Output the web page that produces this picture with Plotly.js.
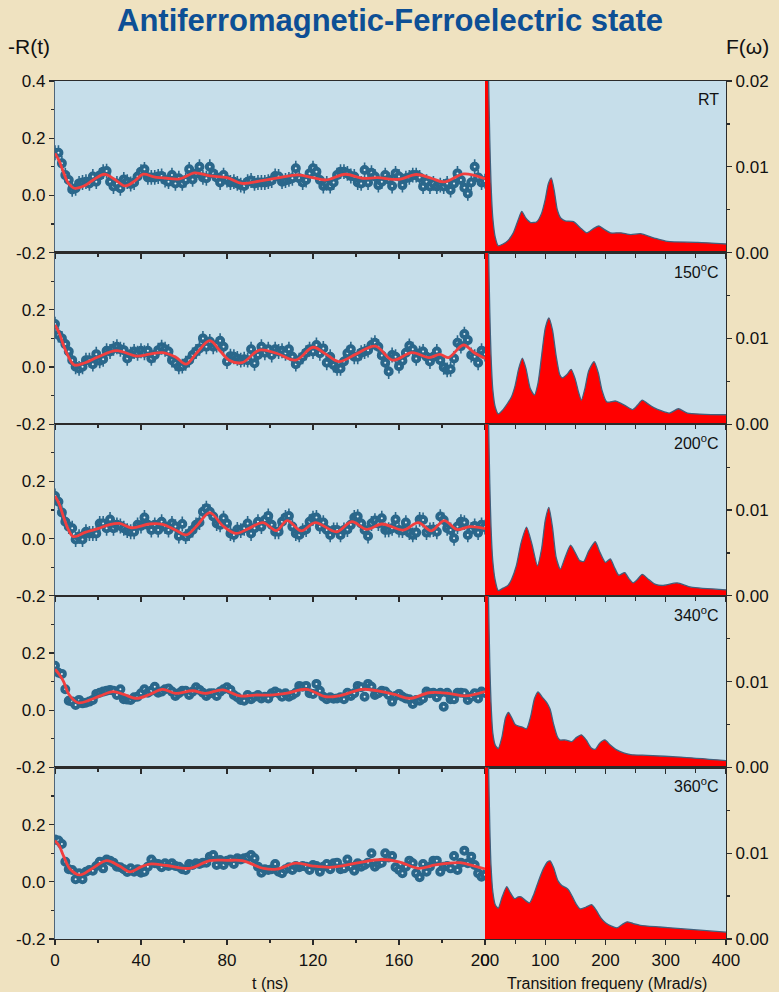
<!DOCTYPE html>
<html>
<head>
<meta charset="utf-8">
<script src="https://cdn.plot.ly/plotly-3.0.1.min.js"></script>
<style>
  html, body { margin: 0; padding: 0; background: #efe2c0; }
  #chart { width: 779px; height: 992px; }
</style>
</head>
<body>
<div id="chart"></div>
<script>
// Sampling step of the time channels (ns)
const T_STEP = 1.6;

// Panel labels (temperature)
const panelLabels = ['RT', '150<sup>o</sup>C', '200<sup>o</sup>C', '340<sup>o</sup>C', '360<sup>o</sup>C'];

// Error bar half-height on -R(t) per panel
const errR = [0.026, 0.026, 0.026, 0, 0];

// -R(t) measured points
const R_RT = [0.149,0.149,0.112,0.071,0.054,0.021,0.025,0.042,0.045,0.048,
  0.042,0.066,0.048,0.070,0.083,0.085,0.048,0.031,0.042,0.025,
  0.056,0.048,0.040,0.045,0.066,0.083,0.091,0.063,0.063,0.063,
  0.066,0.068,0.054,0.048,0.071,0.042,0.060,0.042,0.054,0.091,
  0.056,0.077,0.100,0.063,0.060,0.100,0.077,0.063,0.045,0.071,
  0.054,0.045,0.048,0.042,0.036,0.033,0.048,0.052,0.042,0.045,
  0.045,0.045,0.048,0.052,0.068,0.066,0.048,0.052,0.056,0.060,
  0.095,0.060,0.045,0.054,0.077,0.095,0.083,0.054,0.033,0.042,
  0.033,0.045,0.071,0.083,0.083,0.077,0.068,0.066,0.045,0.042,
  0.089,0.045,0.079,0.066,0.036,0.048,0.071,0.056,0.033,0.077,
  0.066,0.036,0.060,0.063,0.071,0.071,0.063,0.031,0.048,0.031,
  0.042,0.031,0.036,0.031,0.042,0.019,0.042,0.077,0.054,0.027,
  0.007,0.045,0.100,0.063,0.045,0.050];

const R_150 = [0.150,0.112,0.100,0.080,0.054,0.024,0.001,-0.005,0.001,0.024,
  0.024,0.010,0.045,0.022,0.027,0.057,0.054,0.065,0.071,0.062,
  0.059,0.030,0.045,0.054,0.048,0.057,0.050,0.057,0.030,0.042,
  0.059,0.069,0.062,0.054,0.024,0.013,0.001,0.003,0.013,0.024,
  0.042,0.054,0.065,0.100,0.071,0.089,0.071,0.077,0.092,0.071,
  0.019,0.038,0.036,0.030,0.024,0.027,0.024,0.062,0.013,0.042,
  0.071,0.050,0.062,0.042,0.062,0.054,0.057,0.048,0.062,0.036,
  0.010,0.024,0.036,0.050,0.062,0.054,0.077,0.048,0.065,0.015,
  0.036,0.007,-0.005,-0.005,0.019,0.048,0.062,0.036,0.036,0.050,
  0.054,0.059,0.077,0.085,0.071,0.040,0.015,-0.016,0.042,0.036,
  0.003,0.022,0.050,0.074,0.062,0.030,0.048,0.054,0.036,0.019,
  0.036,0.054,0.024,-0.001,-0.010,-0.008,0.030,0.085,0.073,0.115,
  0.094,0.042,0.036,0.015,0.057,0.045];

const R_200 = [0.149,0.129,0.091,0.059,0.042,0.036,-0.003,0.007,-0.003,0.024,
  0.018,0.018,0.018,0.053,0.053,0.036,0.067,0.036,0.048,0.044,
  0.036,0.028,0.024,0.024,0.048,0.044,0.074,0.048,0.030,0.048,
  0.030,0.059,0.042,0.030,0.053,0.042,0.009,0.051,0.007,0.018,
  0.030,0.048,0.056,0.094,0.106,0.094,0.077,0.053,0.048,0.071,
  0.053,0.018,0.013,0.032,0.028,0.036,0.053,0.018,0.036,0.059,
  0.042,0.065,0.079,0.048,0.024,0.024,0.059,0.074,0.079,0.042,
  0.018,0.013,0.028,0.032,0.059,0.071,0.074,0.042,0.056,0.030,
  0.013,0.030,0.030,0.013,0.030,0.032,0.048,0.074,0.077,0.053,
  0.030,0.009,0.053,0.063,0.053,0.071,0.030,0.031,0.036,0.067,
  0.030,0.028,0.056,0.021,0.013,0.021,0.067,0.065,0.021,0.030,
  0.032,0.024,0.077,0.065,0.036,0.030,0.001,0.042,0.059,0.056,
  0.013,0.032,0.044,0.021,0.048,0.040];

const R_340 = [0.155,0.131,0.127,0.073,0.033,0.030,0.018,0.036,0.024,0.026,
  0.030,0.036,0.057,0.061,0.065,0.068,0.071,0.068,0.053,0.073,
  0.038,0.037,0.036,0.045,0.047,0.059,0.073,0.061,0.068,0.082,
  0.061,0.065,0.073,0.076,0.065,0.050,0.059,0.068,0.068,0.053,
  0.065,0.080,0.071,0.061,0.050,0.059,0.059,0.050,0.065,0.073,
  0.080,0.071,0.053,0.045,0.036,0.033,0.053,0.038,0.047,0.053,
  0.041,0.047,0.041,0.059,0.065,0.059,0.047,0.059,0.047,0.053,
  0.061,0.085,0.082,0.085,0.059,0.057,0.092,0.068,0.047,0.038,
  0.045,0.040,0.041,0.045,0.038,0.061,0.050,0.059,0.085,0.080,
  0.047,0.092,0.082,0.053,0.059,0.068,0.065,0.053,0.030,0.050,
  0.057,0.047,0.041,0.038,0.022,0.036,0.033,0.041,0.065,0.059,
  0.061,0.045,0.061,0.012,0.061,0.038,0.038,0.061,0.061,0.059,
  0.036,0.047,0.059,0.041,0.065,0.060];

const R_360 = [0.148,0.144,0.132,0.070,0.044,0.041,0.009,0.030,0.009,0.035,
  0.041,0.039,0.055,0.070,0.047,0.078,0.074,0.067,0.053,0.051,
  0.044,0.034,0.047,0.035,0.044,0.032,0.035,0.053,0.078,0.065,
  0.062,0.051,0.065,0.055,0.065,0.055,0.053,0.044,0.041,0.062,
  0.059,0.065,0.062,0.067,0.067,0.088,0.094,0.059,0.076,0.059,
  0.074,0.078,0.062,0.082,0.078,0.082,0.085,0.094,0.082,0.053,
  0.032,0.044,0.041,0.044,0.062,0.035,0.030,0.044,0.051,0.041,
  0.055,0.051,0.055,0.053,0.041,0.059,0.055,0.035,0.053,0.062,
  0.044,0.065,0.067,0.044,0.047,0.078,0.053,0.039,0.065,0.053,
  0.059,0.067,0.100,0.053,0.062,0.067,0.100,0.085,0.090,0.051,
  0.041,0.030,0.053,0.074,0.065,0.030,0.016,0.062,0.035,0.053,
  0.074,0.074,0.035,0.053,0.055,0.047,0.090,0.041,0.067,0.109,
  0.065,0.088,0.059,0.030,0.018,0.025];

// Fitted -R(t) curves
const fitT_RT = [0,2,4,6,9,14,18,23,28,32.5,37,41,46,52,58,65,72,80,87,95,103,113,120,126,135,143,150,160,168,175,181,190,195,200];
const fitR_RT = [0.147,0.12,0.08,0.045,0.025,0.035,0.055,0.074,0.055,0.033,0.05,0.074,0.065,0.06,0.058,0.079,0.068,0.062,0.042,0.05,0.06,0.072,0.062,0.054,0.074,0.06,0.062,0.056,0.073,0.06,0.047,0.075,0.07,0.058];

const fitT_150 = [0,2,4,6,9,14,20,28.6,38,44,50,56,61,66,72,77,81,87,95,103,112,120,126,132,140,149,157,166,174,179,183,190,195,200];
const fitR_150 = [0.147,0.118,0.075,0.04,0.007,0.015,0.035,0.057,0.038,0.045,0.05,0.035,0.010,0.05,0.092,0.054,0.024,0.015,0.059,0.048,0.024,0.069,0.045,0.019,0.045,0.073,0.024,0.05,0.033,0.044,0.033,0.077,0.05,0.030];

const fitT_200 = [0,2,4,6,8.5,14,20,25,30,35.6,44,50,56,61,66,72,78,84,90,96.7,103,108,114.5,121,131,138,145,152,162,169,175,181,187,193,200];
const fitR_200 = [0.149,0.12,0.075,0.035,0.007,0.022,0.035,0.048,0.053,0.038,0.051,0.05,0.03,0.013,0.045,0.091,0.045,0.018,0.035,0.056,0.028,0.063,0.027,0.056,0.024,0.059,0.032,0.051,0.030,0.056,0.027,0.063,0.032,0.042,0.035];

const fitT_340 = [0,2,4,6.5,10.8,16,21,27,32,38,44,50,56,64,70,78,86,93,100,108,117,126,133,143,152,158,165,174,183,191,200];
const fitR_340 = [0.143,0.125,0.10,0.055,0.026,0.035,0.05,0.065,0.055,0.041,0.055,0.073,0.059,0.068,0.059,0.071,0.050,0.053,0.053,0.06,0.073,0.047,0.052,0.073,0.065,0.055,0.041,0.061,0.059,0.050,0.065];

const fitT_360 = [0,2,4,7,11.6,17,24,30,34.8,40,44,52,62.6,72,80,87,97,103,112,120,129,140,152,160,169,177,188,196,200];
const fitR_360 = [0.144,0.125,0.09,0.045,0.024,0.045,0.074,0.055,0.035,0.052,0.062,0.057,0.047,0.074,0.075,0.074,0.047,0.044,0.065,0.055,0.051,0.065,0.078,0.070,0.047,0.059,0.067,0.053,0.045];

// Frequency distributions F(omega)
const w_RT = [0,2,4,6,8,10,13,17,22,30,38,47,55,61,68,76,86,94,100,105,110,115,120,126,133,147,158,169,180,189,198,208,225,242,258,281,303,353,400];
const F_RT = [0.04,0.035,0.028,0.02,0.013,0.008,0.004,0.0018,0.0008,0.0010,
  0.0014,0.0023,0.0038,0.0048,0.0040,0.0035,0.0036,0.0046,0.0062,0.0080,
  0.0087,0.0072,0.0050,0.0040,0.0037,0.0036,0.0029,0.0023,0.0028,0.0031,
  0.0027,0.0023,0.0023,0.0021,0.0022,0.0017,0.0013,0.0012,0.0010];

const w_150 = [0,2,4,6,8,10,13,17,22,30,38,44,50,56,62,68,75,82,88,94,100,106,112,118,124,128,136,143,150,155,160,166,172,181,188,194,202,217,232,245,253,261,270,281,306,321,336,400];
const F_150 = [0.04,0.035,0.028,0.02,0.013,0.008,0.004,0.002,0.0012,0.0017,
  0.0025,0.0032,0.0045,0.0065,0.0077,0.0065,0.0042,0.0034,0.0048,0.0080,
  0.0112,0.0124,0.0110,0.0080,0.0058,0.0054,0.0058,0.0064,0.0052,0.0038,
  0.0028,0.0042,0.0062,0.0073,0.0060,0.0040,0.0026,0.0027,0.0022,0.0017,
  0.0022,0.0028,0.0024,0.0019,0.0013,0.0018,0.0013,0.0011];

const w_200 = [0,2,4,6,8,10,13,17,22,30,38,44,52,60,69,78,87,94,100,106,112,118,125,133,142,150,157,164,172,183,190,200,208,215,222,232,239,246,253,261,270,281,294,319,342,400];
const F_200 = [0.04,0.035,0.028,0.02,0.013,0.008,0.004,0.0018,0.0006,0.0009,
  0.0012,0.0019,0.0035,0.0062,0.0080,0.0060,0.0035,0.0055,0.0088,0.0103,
  0.0080,0.0045,0.0031,0.0045,0.0059,0.0050,0.0041,0.0040,0.0052,0.0063,
  0.0052,0.0039,0.0043,0.0033,0.0024,0.0027,0.0020,0.0015,0.0019,0.0025,
  0.0020,0.0014,0.0012,0.0015,0.0010,0.0007];

const w_340 = [0,2,4,6,8,10,13,17,22,28,34,39,45,50,56,62,69,76,82,88,95,102,108,114,120,124,132,139,144,152,160,168,176,183,190,199,208,217,230,242,269,325,400];
const F_340 = [0.04,0.035,0.027,0.019,0.012,0.0075,0.004,0.0026,0.0022,0.0035,
  0.0058,0.0064,0.0057,0.0050,0.0048,0.0047,0.0045,0.0060,0.0080,0.0088,
  0.0082,0.0076,0.0068,0.0050,0.0036,0.0032,0.0032,0.0031,0.0030,0.0035,
  0.0038,0.0032,0.0023,0.0021,0.0028,0.0032,0.0026,0.0021,0.0017,0.0015,
  0.0014,0.0012,0.0008];

const w_360 = [0,2,4,6,8,10,13,17,22,28,36,42,49,55,60,67,74,81,89,97,104,108,114,121,128,134,139,146,152,158,167,177,185,192,200,210,219,228,236,246,258,290,325,400];
const F_360 = [0.04,0.035,0.028,0.02,0.013,0.0085,0.0055,0.0040,0.0036,0.0048,
  0.0061,0.0054,0.0047,0.0049,0.0049,0.0045,0.0042,0.0052,0.0068,0.0082,
  0.0090,0.0091,0.0083,0.0068,0.0062,0.0060,0.0057,0.0048,0.0040,0.0035,
  0.0037,0.0040,0.0033,0.0025,0.0019,0.0015,0.0013,0.0017,0.0020,0.0018,
  0.0016,0.0014,0.0012,0.0008];

// Tick labels
const tickT = [0, 40, 80, 120, 160, 200];
const tickW = [0, 100, 200, 300, 400];
const tickRvals = [-0.2, 0, 0.2, 0.4];
const tickRtext = ['-0.2', '0.0', '0.2', '0.4'];
const tickFvals = [0, 0.01, 0.02];
const tickFtext = ['0.00', '0.01', '0.02'];

const panels = [
  { label: panelLabels[0], R: R_RT,  fT: fitT_RT,  fR: fitR_RT,  w: w_RT,  F: F_RT,  err: errR[0] },
  { label: panelLabels[1], R: R_150, fT: fitT_150, fR: fitR_150, w: w_150, F: F_150, err: errR[1] },
  { label: panelLabels[2], R: R_200, fT: fitT_200, fR: fitR_200, w: w_200, F: F_200, err: errR[2] },
  { label: panelLabels[3], R: R_340, fT: fitT_340, fR: fitR_340, w: w_340, F: F_340, err: errR[3] },
  { label: panelLabels[4], R: R_360, fT: fitT_360, fR: fitR_360, w: w_360, F: F_360, err: errR[4] }
];

// Page geometry (pixels)
const W = 779, H = 992;
const plotTop = 81, plotBottom = 939;
const rowH = (plotBottom - plotTop) / panels.length;
const xLeft0 = 55, xSplit = 485, xRight1 = 726;

const FONT = 'Liberation Sans, Arial, Helvetica, sans-serif';
const axisColor = '#2b2b2b';
const dotColor = '#2a678b';

const data = [];
const layout = {
  width: W, height: H,
  margin: { l: 0, r: 0, t: 0, b: 0 },
  paper_bgcolor: '#efe2c0',
  plot_bgcolor: '#c6deea',
  showlegend: false,
  font: { family: FONT, size: 17, color: '#111' },
  annotations: []
};

panels.forEach((p, r) => {
  const nL = 2 * r + 1, nR = 2 * r + 2;
  const top = plotTop + r * rowH, bot = top + rowH;
  const yDom = [1 - bot / H, 1 - top / H];
  const last = r === panels.length - 1;
  const tVals = p.R.map((_, i) => i * T_STEP);

  // measured points: dark spheres with a small light centre, vertical error bars
  data.push({
    x: tVals, y: p.R, type: 'scatter', mode: 'markers',
    xaxis: 'x' + nL, yaxis: 'y' + nL,
    marker: { size: 6, color: '#e6f1f7', line: { color: dotColor, width: 4 } },
    error_y: { type: 'constant', value: p.err, visible: p.err > 0, color: dotColor, thickness: 1.6, width: 0 }
  });
  // fitted curve
  data.push({
    x: p.fT, y: p.fR, type: 'scatter', mode: 'lines',
    xaxis: 'x' + nL, yaxis: 'y' + nL,
    line: { color: '#f23f3f', width: 2.8, shape: 'spline', smoothing: 1 }
  });
  // frequency distribution
  data.push({
    x: p.w, y: p.F, type: 'scatter', mode: 'lines', fill: 'tozeroy',
    xaxis: 'x' + nR, yaxis: 'y' + nR,
    fillcolor: '#ff0000',
    line: { color: '#41607c', width: 1.3, shape: 'spline', smoothing: 0.6 }
  });

  const common = {
    showgrid: false, zeroline: false, showline: true, linecolor: axisColor, linewidth: 1.2,
    ticks: 'outside', ticklen: 5, tickwidth: 1.2, tickcolor: axisColor,
    tickfont: { family: FONT, size: 17, color: '#111' }
  };

  layout['xaxis' + (nL === 1 ? '' : nL)] = Object.assign({}, common, {
    domain: [xLeft0 / W, xSplit / W], anchor: 'y' + nL, range: [0, 200], mirror: true,
    tickmode: 'array', tickvals: tickT, ticktext: tickT.map(String),
    showticklabels: last,
    minor: { dtick: 20, ticklen: 3, ticks: 'outside', tickcolor: axisColor }
  });
  layout['yaxis' + (nL === 1 ? '' : nL)] = Object.assign({}, common, {
    domain: yDom, anchor: 'x' + nL, range: [-0.2, 0.4], mirror: true, linecolor: '#4f6578',
    tickmode: 'array',
    tickvals: r === 0 ? tickRvals : tickRvals.slice(0, 3),
    ticktext: r === 0 ? tickRtext : tickRtext.slice(0, 3),
    minor: { dtick: 0.1, tick0: 0, ticklen: 3, ticks: 'outside', tickcolor: axisColor }
  });
  layout['xaxis' + nR] = Object.assign({}, common, {
    domain: [xSplit / W, xRight1 / W], anchor: 'y' + nR, range: [0, 400], mirror: true,
    tickmode: 'array', tickvals: tickW, ticktext: tickW.map(String),
    showticklabels: last,
    minor: { dtick: 50, ticklen: 4, ticks: 'outside', tickcolor: axisColor }
  });
  layout['yaxis' + nR] = Object.assign({}, common, {
    domain: yDom, anchor: 'x' + nR, side: 'right', range: [0, 0.02], mirror: false,
    tickmode: 'array',
    tickvals: r === 0 ? tickFvals : tickFvals.slice(0, 2),
    ticktext: r === 0 ? tickFtext : tickFtext.slice(0, 2),
    minor: { dtick: 0.005, ticklen: 3, ticks: 'outside', tickcolor: axisColor }
  });

  layout.annotations.push({
    xref: 'paper', yref: 'paper', x: 721 / W, y: 1 - (top + 18) / H,
    xanchor: 'right', yanchor: 'middle', showarrow: false,
    text: p.label, font: { family: FONT, size: 16, color: '#111' }
  });
});

// Headings and axis names
layout.annotations.push(
  { xref: 'paper', yref: 'paper', x: 390 / W, y: 1 - 21 / H, xanchor: 'center', yanchor: 'middle',
    showarrow: false, text: '<b>Antiferromagnetic-Ferroelectric state</b>',
    font: { family: FONT, size: 31, color: '#0d4f95' } },
  { xref: 'paper', yref: 'paper', x: 6 / W, y: 1 - 47 / H, xanchor: 'left', yanchor: 'middle',
    showarrow: false, text: '-R(t)', font: { family: FONT, size: 21, color: '#111' } },
  { xref: 'paper', yref: 'paper', x: 771 / W, y: 1 - 47 / H, xanchor: 'right', yanchor: 'middle',
    showarrow: false, text: 'F(\u03c9)', font: { family: FONT, size: 21, color: '#111' } },
  { xref: 'paper', yref: 'paper', x: 270 / W, y: 1 - 983 / H, xanchor: 'center', yanchor: 'middle',
    showarrow: false, text: 't (ns)', font: { family: FONT, size: 16, color: '#111' } },
  { xref: 'paper', yref: 'paper', x: 607 / W, y: 1 - 983 / H, xanchor: 'center', yanchor: 'middle',
    showarrow: false, text: 'Transition frequeny (Mrad/s)', font: { family: FONT, size: 16, color: '#111' } }
);

Plotly.newPlot('chart', data, layout, { displayModeBar: false, staticPlot: true });
</script>
</body>
</html>
